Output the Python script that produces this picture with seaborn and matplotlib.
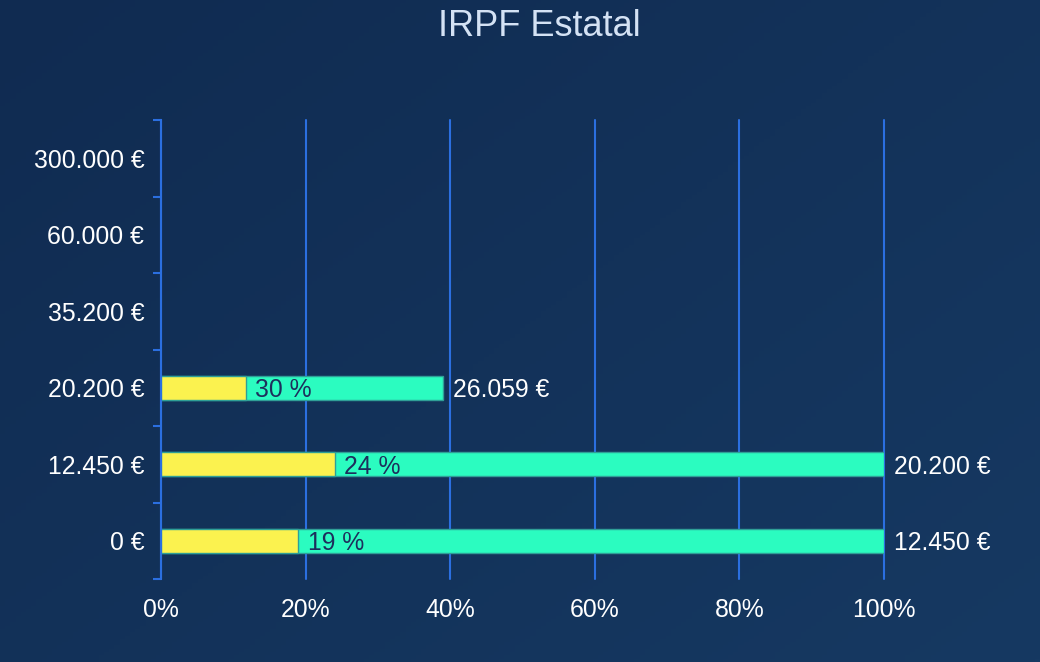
import numpy as np
import pandas as pd
import matplotlib
matplotlib.use("Agg")
import matplotlib.pyplot as plt
import seaborn as sns

# ---- data ----
categories = ["0 €", "12.450 €", "20.200 €", "35.200 €", "60.000 €", "300.000 €"]
bar_cats = ["0 €", "12.450 €", "20.200 €"]
rates = [19, 24, 30]                 # tax rate of each bracket (%)
fill = [100, 100, 39.06]             # share of bracket filled (%)
right_labels = ["12.450 €", "20.200 €", "26.059 €"]
xticks = [0, 20, 40, 60, 80, 100]

yellow = [r * f / 100 for r, f in zip(rates, fill)]
df = pd.DataFrame({"cat": bar_cats, "fill": fill, "tax": yellow,
                   "rate": rates, "rlab": right_labels})
order = categories[::-1]

sns.set_theme(style="white")
plt.rcParams["font.family"] = ["Liberation Sans", "DejaVu Sans"]

W, H = 1040, 662
fig = plt.figure(figsize=(W / 100, H / 100), dpi=100)

# gradient background
bg = fig.add_axes([0, 0, 1, 1], zorder=-10)
gx = np.linspace(0, 1, 200)
gy = np.linspace(0, 1, 200)
GX, GY = np.meshgrid(gx, gy)
t = 0.55 * GX + 0.45 * GY
c0 = np.array([0x10, 0x2b, 0x51]) / 255
c1 = np.array([0x16, 0x39, 0x62]) / 255
img = c0[None, None, :] * (1 - t[..., None]) + c1[None, None, :] * t[..., None]
bg.imshow(img, aspect="auto", extent=[0, 1, 0, 1], origin="upper")
bg.axis("off")

ax = fig.add_axes([161 / W, 83 / H, 723 / W, 459 / H])
ax.set_facecolor("none")

grid_c = "#2b6fe0"
edge_c = "#2f9f97"
bh = 0.31
fs = 17.8

sns.barplot(data=df, x="fill", y="cat", order=order, color="#2bfcc0",
            saturation=1, width=bh, edgecolor=edge_c, linewidth=1, ax=ax, zorder=3)
sns.barplot(data=df, x="tax", y="cat", order=order, color="#fbf24f",
            saturation=1, width=bh, edgecolor=edge_c, linewidth=1, ax=ax, zorder=4)

ax.set_xlim(0, 100)
ax.set_ylim(len(categories) - 0.5, -0.5)
ax.set_xlabel("")
ax.set_ylabel("")

for _, row in df.iterrows():
    yi = order.index(row["cat"])
    ax.annotate(f"{row['rate']} %", xy=(row["tax"], yi), xytext=(7, 0),
                textcoords="offset points", va="center_baseline", ha="left",
                fontsize=fs, color="#1d2f5c", zorder=6)
    ax.annotate(row["rlab"], xy=(row["fill"], yi), xytext=(7, 0),
                textcoords="offset points", va="center_baseline", ha="left",
                fontsize=fs, color="white", zorder=6, annotation_clip=False)

# grid
ax.set_xticks(xticks)
ax.set_xticklabels([f"{v}%" for v in xticks], fontsize=fs, color="white")
for v in xticks:
    ax.axvline(v, color=grid_c, lw=1.5, zorder=1, clip_on=False)
ax.tick_params(axis="x", length=0, pad=14)

ax.set_yticks(range(len(order)))
ax.set_yticklabels(order, fontsize=fs, color="white")
ax.set_yticks(np.arange(-0.5, len(order), 1), minor=True)
ax.tick_params(axis="y", which="major", length=0, pad=12)
ax.tick_params(axis="y", which="minor", length=6, width=1.5, color=grid_c, left=True)

for s in ["top", "right", "bottom"]:
    ax.spines[s].set_visible(False)
ax.spines["left"].set_color(grid_c)
ax.spines["left"].set_linewidth(1.5)
ax.spines["left"].set_zorder(5)

fig.text(539.5 / W, 1 - 27 / H, "IRPF Estatal", ha="center", va="center",
         fontsize=26, color="#d4e2f4")

fig.savefig("out.png", dpi=100)
